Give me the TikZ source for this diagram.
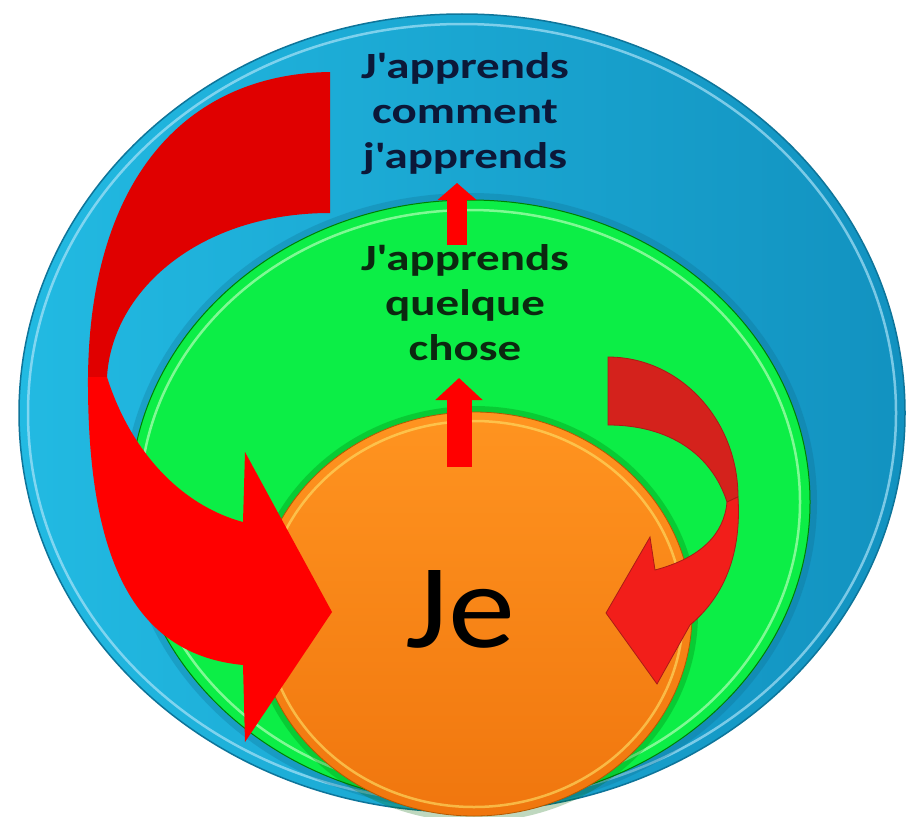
\documentclass[tikz,border=0pt]{standalone}
\usepackage{fontspec}
\usepackage{xcolor}
\usepackage{tikz}
\usetikzlibrary{arrows.meta,shapes.geometric}
\newfontfamily\headfont[FakeStretch=1.27]{Carlito}
\newfontfamily\selffont[FakeStretch=1.12]{Carlito}
\definecolor{blueL}{RGB}{34,186,226}
\definecolor{blueD}{RGB}{18,146,192}
\definecolor{greenF}{RGB}{12,238,70}
\definecolor{orangeT}{RGB}{255,148,32}
\definecolor{orangeB}{RGB}{240,118,14}
\definecolor{ribbonD}{RGB}{224,0,0}
\definecolor{ribbonB}{RGB}{255,0,0}
\definecolor{curlD}{RGB}{212,34,28}
\definecolor{curlB}{RGB}{242,30,26}
\definecolor{navytxt}{RGB}{12,24,56}
\definecolor{greentxt}{RGB}{12,40,16}

\begin{document}
\begin{tikzpicture}[x=1pt, y=-1pt,
  ring/.style={ellipse, inner sep=0pt, outer sep=0pt},
  rim/.style={line width=2.5pt, opacity=.65},
  head/.style={inner sep=0pt, align=center, font=\headfont\bfseries\fontsize{37}{45}\selectfont},
  uparrow/.style={draw=ribbonB, line width=#1}]
\fill[white] (0,0) rectangle (909,816);
\useasboundingbox (0,0) rectangle (909,816);

\node[ring, left color=blueL, right color=blueD, draw=blueD!80!black, line width=1.5pt,
  minimum width=886, minimum height=798] (outer) at (462,413) {};
\draw[rim, draw=cyan!30!white] (outer.center) ellipse [x radius=434, y radius=389];

\draw[line width=8pt, draw=blueD!70!black, opacity=.25] (470,502) ellipse [x radius=343, y radius=305];
\node[ring, fill=greenF, draw=green!50!black, line width=1pt,
  minimum width=680, minimum height=604] (middle) at (470,502) {};
\draw[rim, draw=green!25!white] (middle.center) ellipse [x radius=330, y radius=292];

\draw[line width=6pt, draw=green!40!black, opacity=.25] (474,614) ellipse [x radius=221, y radius=205];
\node[ring, top color=orangeT, bottom color=orangeB, draw=orange!70!black, line width=.8pt,
  minimum width=436, minimum height=404] (self) at (474,614) {};
\draw[rim, draw=yellow!60!orange!60!white] (self.center) ellipse [x radius=209, y radius=193];

\fill[ribbonD] (330,72) .. controls (185,74) and (90,180) .. (88,377) -- (107,377)
  .. controls (112,290) and (200,213) .. (330,213) -- cycle;
\fill[ribbonB] (88,377) .. controls (87,570) and (140,655) .. (243,665) -- (245,742)
  -- (332,612) -- (245,452) -- (243,522) .. controls (180,505) and (130,450) .. (107,377) -- cycle;

\filldraw[fill=curlD, draw=curlD!80!black, line width=.8pt] (608,357)
  .. controls (680,357) and (738,420) .. (738,497) -- (727,502)
  .. controls (712,455) and (670,425) .. (608,425) -- cycle;
\filldraw[fill=curlB, draw=curlD!80!black, line width=.8pt] (738,497)
  .. controls (742,560) and (720,600) .. (690,625) -- (657,684) -- (606,613) -- (650,537)
  -- (655,570) .. controls (700,558) and (724,535) .. (727,502) -- cycle;

\node[head, text=navytxt, anchor=north] (meta) at (465,52) {J'apprends\\comment\\j'apprends};
\node[head, text=greentxt, anchor=north] (learn) at (465,244) {J'apprends\\quelque\\chose};
\node[inner sep=0pt, anchor=base, font=\selffont\fontsize{120}{120}\selectfont] (je) at (460,647) {Je};

\coordinate (up1s) at (457,245);
\coordinate (up1t) at (457,183);
\coordinate (up2s) at (459,467);
\coordinate (up2t) at (459,378);
\draw[uparrow=20pt, -{Triangle[width=38pt, length=17pt]}] (up1s) -- (up1t);
\draw[uparrow=25pt, -{Triangle[width=46pt, length=22pt]}] (up2s) -- (up2t);
\end{tikzpicture}
\end{document}
